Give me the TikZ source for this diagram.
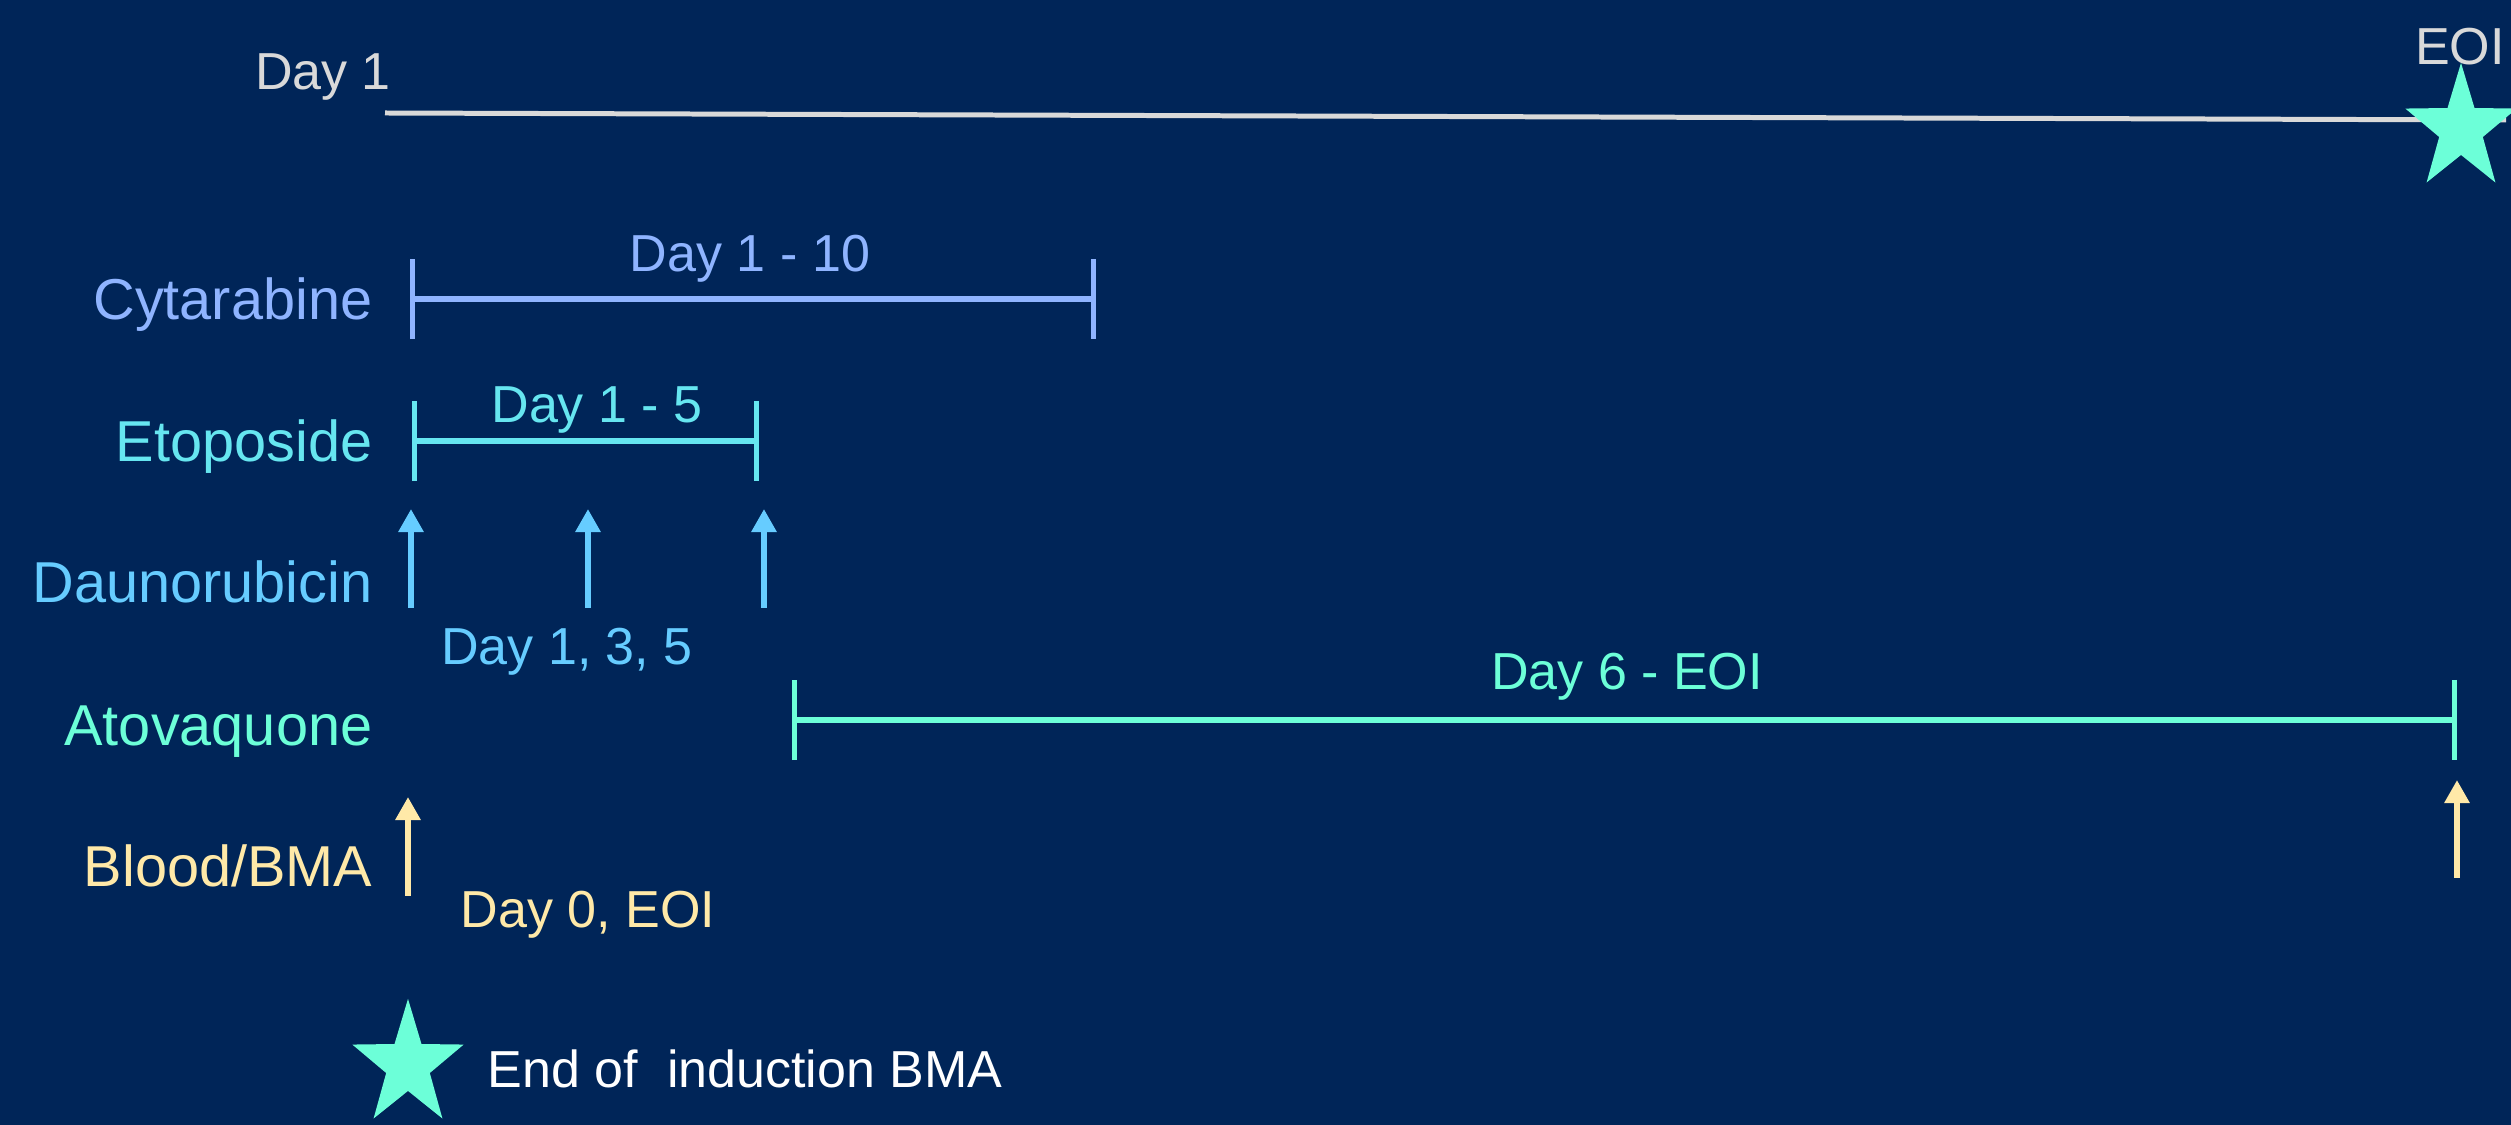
\documentclass[tikz,border=0pt]{standalone}
\usepackage{fontspec}
\setmainfont{Liberation Sans}
\usetikzlibrary{arrows.meta,shapes.geometric}
\definecolor{navy}{RGB}{0,37,88}
\definecolor{axisgray}{RGB}{217,217,217}
\definecolor{cytblue}{RGB}{143,180,255}
\definecolor{etocyan}{RGB}{102,230,240}
\definecolor{dausky}{RGB}{102,204,255}
\definecolor{atoaqua}{RGB}{108,255,216}
\definecolor{bmacream}{RGB}{255,233,168}
\tikzset{
	drug/.style={anchor=base east, inner sep=0pt, font=\fontsize{16.4}{19}\selectfont},
	span/.style={anchor=base, inner sep=0pt, font=\fontsize{14.8}{17}\selectfont},
	period/.style={line width=1.6pt, {Bar[width=0.8cm,line width=1.3pt]}-{Bar[width=0.8cm,line width=1.3pt]}},
	dose/.style={line width=1.85pt, -{Triangle[width=0.24cm,length=0.23cm]}},
	eoistar/.style={star, star points=5, star point ratio=2.55, minimum size=1.17cm, inner sep=0pt, draw=none, fill=atoaqua, yscale=1.13, transform shape}
}
\begin{document}
\begin{tikzpicture}[x=0.01cm, y=-0.01cm]
			\def\LabelX{373}
			\clip (0,0) rectangle (2511,1125);
			\fill[navy] (0,0) rectangle (2511,1125);
			\node[span, text=axisgray] (dayone) at (323,90) {Day 1};
			\coordinate (axS) at (385,113);
			\coordinate (axE) at (2506,120);
				\draw[axisgray, line width=1.42pt] (axS) -- (axE);
			\node[span, text=axisgray] (eoi) at (2460,65) {EOI};
			\node[eoistar] (eoistar) at (2461,129) {};
			\node[drug, text=cytblue] (cytarabine) at (\LabelX,320) {Cytarabine};
			\node[drug, text=etocyan] (etoposide) at (\LabelX,462) {Etoposide};
			\node[drug, text=dausky] (daunorubicin) at (\LabelX,603) {Daunorubicin};
			\node[drug, text=atoaqua] (atovaquone) at (\LabelX,746) {Atovaquone};
			\node[drug, text=bmacream] (bloodbma) at (\LabelX,887) {Blood/BMA};
			\coordinate (cytS) at (410,299);
			\coordinate (cytE) at (1096,299);
				\draw[period, cytblue] (cytS) -- (cytE);
			\node[span, text=cytblue] (cytdays) at (750,272) {Day 1 - 10};
			\coordinate (etoS) at (412,441);
			\coordinate (etoE) at (759,441);
				\draw[period, etocyan] (etoS) -- (etoE);
			\node[span, text=etocyan] (etodays) at (597,423) {Day 1 - 5};
			\foreach \x [count=\i] in {411,588,764}
				{
				\coordinate (dauS\i) at (\x,608);
				\coordinate (dauT\i) at (\x,509);
				\draw[dose, dausky] (dauS\i) -- (dauT\i);
				}
			\node[span, text=dausky] (daudays) at (567,665) {Day 1, 3, 5};
			\coordinate (atoS) at (792,720);
			\coordinate (atoE) at (2457,720);
				\draw[period, atoaqua] (atoS) -- (atoE);
			\node[span, text=atoaqua] (atodays) at (1627,690) {Day 6 - EOI};
			\coordinate (bmaS1) at (408,896);
			\coordinate (bmaT1) at (408,797);
			\coordinate (bmaS2) at (2457,878);
			\coordinate (bmaT2) at (2457,780);
				\draw[dose, bmacream] (bmaS1) -- (bmaT1);
				\draw[dose, bmacream] (bmaS2) -- (bmaT2);
			\node[span, text=bmacream] (bmadays) at (588,928) {Day 0, EOI};
			\node[eoistar] (legendstar) at (408,1065) {};
			\node[span, anchor=base west, text=white] (legend) at (487,1088) {End of\ \ induction BMA};
		\end{tikzpicture}
\end{document}
